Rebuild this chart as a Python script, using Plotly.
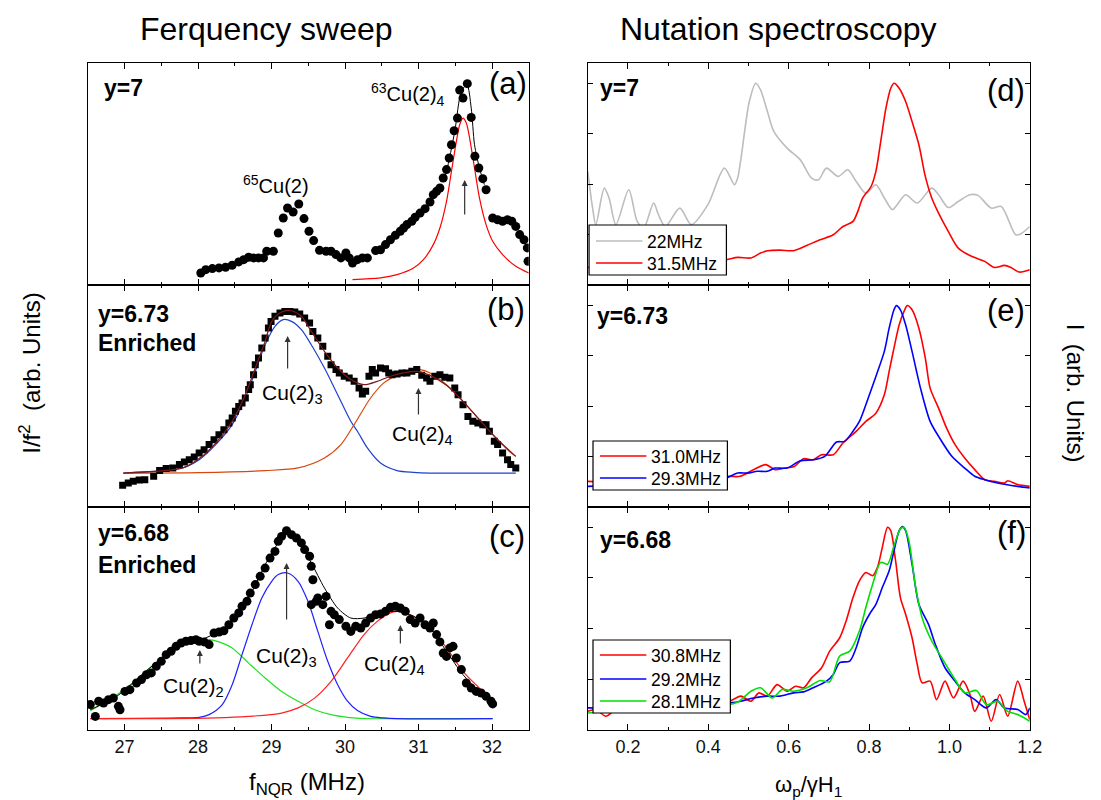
import plotly.graph_objects as go

# ---------------- data ----------------
# (a) y=7 frequency sweep: measured points, Lorentzian component, total fit
a_dots = [(28.038,0.054),(28.106,0.069),(28.195,0.074),(28.285,0.077),(28.375,0.080),(28.465,0.089),
          (28.554,0.104),(28.622,0.114),(28.689,0.125),(28.756,0.122),(28.823,0.122),(28.891,0.122),
          (28.935,0.152),(29.025,0.152),(29.092,0.234),(29.160,0.302),(29.218,0.347),(29.294,0.329),
          (29.371,0.365),(29.442,0.299),(29.510,0.242),(29.573,0.200),(29.653,0.156),(29.743,0.152),
          (29.810,0.152),(29.877,0.137),(29.944,0.122),(30.012,0.144),(30.057,0.122),(30.102,0.099),
          (30.169,0.114),(30.236,0.122),(30.304,0.122),(30.416,0.155),(30.483,0.159),(30.551,0.182),
          (30.618,0.204),(30.685,0.224),(30.752,0.242),(30.797,0.257),(30.842,0.272),(30.909,0.287),
          (30.954,0.305),(31.021,0.324),(31.089,0.344),(31.156,0.374),(31.201,0.407),(31.246,0.422),
          (31.291,0.437),(31.336,0.482),(31.381,0.520),(31.417,0.572),(31.448,0.632),(31.484,0.695),
          (31.529,0.752),(31.560,0.878),(31.605,0.842),(31.664,0.907),(31.717,0.755),(31.767,0.580),
          (31.820,0.527),(31.874,0.479),(31.919,0.429),(32.009,0.302),(32.076,0.294),(32.144,0.287),
          (32.211,0.294),(32.269,0.287),(32.323,0.264),(32.376,0.227),(32.435,0.204),(32.480,0.167),
          (32.490,0.107)]
a_lorentz = [(30.102,0.024),(30.483,0.032),(30.708,0.047),(30.932,0.077),(31.067,0.114),(31.201,0.182),
             (31.291,0.257),(31.381,0.377),(31.448,0.512),(31.515,0.647),(31.560,0.722),(31.605,0.752),
             (31.650,0.730),(31.695,0.662),(31.762,0.527),(31.829,0.392),(31.919,0.272),(32.009,0.197),
             (32.144,0.137),(32.323,0.084),(32.500,0.054)]
a_total = [(31.336,0.467),(31.381,0.512),(31.493,0.692),(31.583,0.872),(31.659,0.902),(31.717,0.797),
           (31.762,0.632),(31.829,0.527),(31.896,0.452)]

# (b) y=6.73 enriched
b_dots = [(26.975,0.098),(27.051,0.108),(27.119,0.116),(27.199,0.122),(27.276,0.123),(27.397,0.138),
          (27.478,0.164),(27.567,0.173),(27.657,0.176),(27.747,0.191),(27.814,0.203),(27.881,0.213),
          (27.949,0.225),(28.016,0.243),(28.083,0.258),(28.151,0.281),(28.218,0.303),(28.285,0.326),
          (28.352,0.348),(28.420,0.378),(28.465,0.401),(28.509,0.431),(28.554,0.453),(28.599,0.468),
          (28.644,0.491),(28.689,0.529),(28.711,0.551),(28.756,0.596),(28.779,0.641),(28.823,0.671),
          (28.868,0.716),(28.913,0.761),(28.958,0.806),(28.994,0.836),(29.047,0.859),(29.115,0.874),
          (29.182,0.881),(29.249,0.881),(29.317,0.878),(29.384,0.869),(29.451,0.851),(29.518,0.829),
          (29.563,0.791),(29.630,0.761),(29.698,0.724),(29.765,0.679),(29.810,0.641),(29.877,0.619),
          (29.922,0.604),(29.989,0.589),(30.057,0.581),(30.124,0.566),(30.191,0.536),(30.236,0.509),
          (30.281,0.521),(30.326,0.589),(30.371,0.619),(30.416,0.604),(30.483,0.626),(30.551,0.623),
          (30.595,0.604),(30.640,0.596),(30.708,0.599),(30.775,0.604),(30.842,0.604),(30.909,0.611),
          (30.976,0.619),(31.044,0.593),(31.111,0.581),(31.156,0.566),(31.223,0.589),(31.291,0.596),
          (31.358,0.584),(31.426,0.581),(31.493,0.536),(31.538,0.506),(31.605,0.461),(31.672,0.408),
          (31.739,0.386),(31.807,0.378),(31.874,0.371),(31.919,0.371),(31.964,0.341),(32.031,0.296),
          (32.076,0.281),(32.144,0.243),(32.211,0.213),(32.255,0.191),(32.323,0.176)]
b_cu3 = [(26.984,0.153),(27.792,0.176),(28.016,0.213),(28.241,0.281),(28.465,0.371),(28.644,0.491),
         (28.779,0.611),(28.913,0.731),(29.047,0.814),(29.160,0.844),(29.272,0.836),(29.406,0.799),
         (29.541,0.731),(29.720,0.626),(29.900,0.506),(30.079,0.386),(30.169,0.341),(30.304,0.266),
         (30.483,0.198),(30.708,0.164),(30.932,0.156),(31.156,0.153),(32.323,0.153)]
b_cu4 = [(26.984,0.153),(28.016,0.155),(28.913,0.164),(29.361,0.176),(29.720,0.221),(29.944,0.281),
         (30.124,0.371),(30.348,0.491),(30.528,0.559),(30.708,0.593),(30.932,0.616),(31.021,0.619),
         (31.156,0.604),(31.381,0.551),(31.605,0.476),(31.829,0.393),(32.054,0.311),(32.233,0.251),
         (32.323,0.228)]
b_total = [(26.984,0.153),(27.792,0.176),(28.016,0.218),(28.241,0.288),(28.465,0.386),(28.644,0.506),
           (28.779,0.626),(28.913,0.746),(29.003,0.836),(29.137,0.878),(29.272,0.884),(29.406,0.859),
           (29.541,0.791),(29.720,0.701),(29.900,0.626),(30.079,0.574),(30.259,0.551),(30.438,0.566),
           (30.618,0.589),(30.797,0.604),(30.976,0.611),(31.156,0.593),(31.381,0.548),(31.605,0.476),
           (31.829,0.393),(32.054,0.311),(32.323,0.228)]

# (c) y=6.68 enriched
c_dots = [(26.535,0.114),(26.603,0.061),(26.648,0.129),(26.715,0.121),(26.782,0.136),(26.849,0.143),
          (26.917,0.106),(26.939,0.091),(27.006,0.173),(27.073,0.181),(27.163,0.211),(27.231,0.226),
          (27.298,0.248),(27.365,0.256),(27.432,0.286),(27.500,0.308),(27.567,0.338),(27.634,0.353),
          (27.702,0.375),(27.769,0.390),(27.836,0.398),(27.904,0.401),(27.971,0.405),(28.016,0.398),
          (28.083,0.395),(28.151,0.383),(28.218,0.435),(28.285,0.439),(28.352,0.445),(28.420,0.472),
          (28.487,0.502),(28.554,0.525),(28.599,0.555),(28.666,0.577),(28.711,0.614),(28.779,0.652),
          (28.846,0.689),(28.913,0.726),(28.980,0.771),(29.047,0.801),(29.092,0.846),(29.137,0.868),
          (29.204,0.894),(29.272,0.876),(29.339,0.861),(29.406,0.839),(29.451,0.809),(29.518,0.779),
          (29.541,0.734),(29.563,0.674),(29.630,0.592),(29.698,0.562),(29.743,0.599),(29.541,0.562),
          (29.608,0.577),(29.810,0.532),(29.855,0.517),(29.788,0.472),(29.922,0.495),(30.012,0.465),
          (30.079,0.442),(30.146,0.465),(30.214,0.457),(30.281,0.480),(30.348,0.502),(30.416,0.517),
          (30.483,0.520),(30.551,0.532),(30.618,0.550),(30.685,0.555),(30.752,0.547),(30.820,0.532),
          (30.887,0.495),(30.954,0.480),(31.021,0.502),(31.089,0.472),(31.156,0.457),(31.201,0.480),
          (31.246,0.428),(31.291,0.395),(31.336,0.345),(31.381,0.330),(31.426,0.368),(31.470,0.375),
          (31.515,0.323),(31.583,0.271),(31.650,0.211),(31.717,0.188),(31.785,0.173),(31.852,0.166),
          (31.919,0.151),(31.986,0.129),(32.009,0.117)]
c_cu2 = [(26.535,0.087),(26.760,0.129),(27.028,0.188),(27.343,0.278),(27.567,0.338),(27.792,0.386),
         (28.016,0.405),(28.151,0.405),(28.285,0.395),(28.465,0.368),(28.689,0.300),(28.913,0.233),
         (29.137,0.173),(29.361,0.129),(29.586,0.091),(29.810,0.069),(30.034,0.057),(30.259,0.051),
         (30.708,0.051),(32.009,0.051)]
c_cu3 = [(26.535,0.051),(27.792,0.054),(28.016,0.057),(28.151,0.069),(28.330,0.114),(28.465,0.203),
         (28.599,0.338),(28.734,0.472),(28.868,0.592),(29.003,0.667),(29.092,0.697),(29.218,0.704),
         (29.361,0.667),(29.496,0.577),(29.630,0.442),(29.765,0.308),(29.900,0.203),(30.034,0.129),
         (30.169,0.087),(30.348,0.061),(30.528,0.054),(30.708,0.051),(32.009,0.051)]
c_cu4 = [(26.535,0.051),(27.567,0.051),(28.241,0.054),(28.689,0.061),(29.137,0.076),(29.361,0.099),
         (29.586,0.143),(29.810,0.218),(30.034,0.323),(30.259,0.428),(30.438,0.487),(30.618,0.525),
         (30.708,0.532),(30.797,0.529),(30.932,0.510),(31.156,0.457),(31.381,0.368),(31.605,0.263),
         (31.829,0.188),(32.009,0.136)]
c_total = [(26.535,0.091),(26.894,0.151),(27.343,0.278),(27.792,0.383),(28.106,0.413),(28.241,0.435),
           (28.465,0.487),(28.689,0.592),(28.913,0.741),(29.092,0.839),(29.204,0.876),(29.361,0.846),
           (29.541,0.749),(29.720,0.637),(29.900,0.547),(30.079,0.502),(30.259,0.502),(30.483,0.525),
           (30.708,0.532),(30.932,0.510),(31.156,0.457),(31.381,0.353),(31.605,0.248),(31.829,0.173),
           (32.009,0.129)]

# (d) nutation spectra, y=7
d_22 = [(0.100,0.563),(0.112,0.381),(0.120,0.299),(0.141,0.480),(0.153,0.431),(0.170,0.299),(0.202,0.472),
        (0.223,0.315),(0.239,0.282),(0.264,0.406),(0.276,0.348),(0.293,0.290),(0.329,0.381),(0.358,0.299),
        (0.399,0.398),(0.440,0.579),(0.465,0.497),(0.473,0.530),(0.502,0.909),(0.518,1.000),(0.530,0.967),
        (0.547,0.860),(0.563,0.761),(0.596,0.678),(0.629,0.620),(0.657,0.530),(0.674,0.521),(0.694,0.579),
        (0.723,0.538),(0.747,0.571),(0.768,0.513),(0.792,0.455),(0.817,0.497),(0.838,0.431),(0.858,0.373),
        (0.870,0.398),(0.891,0.447),(0.920,0.406),(0.956,0.480),(0.973,0.447),(0.997,0.384),(1.022,0.414),
        (1.051,0.447),(1.071,0.444),(1.104,0.381),(1.129,0.389),(1.165,0.249),(1.178,0.254),(1.200,0.290)]
d_315 = [(0.100,0.087),(0.150,0.095),(0.250,0.100),(0.350,0.110),(0.444,0.125),(0.473,0.137),(0.506,0.134),
         (0.530,0.158),(0.547,0.170),(0.579,0.173),(0.612,0.170),(0.645,0.196),(0.678,0.224),(0.711,0.249),
         (0.735,0.290),(0.760,0.315),(0.772,0.365),(0.784,0.431),(0.805,0.488),(0.817,0.563),(0.829,0.711),
         (0.842,0.876),(0.854,0.975),(0.862,1.000),(0.875,0.975),(0.891,0.909),(0.907,0.810),(0.924,0.695),
         (0.940,0.538),(0.956,0.431),(0.973,0.356),(0.997,0.266),(1.022,0.183),(1.055,0.142),(1.088,0.117),
         (1.112,0.087),(1.137,0.097),(1.153,0.087),(1.174,0.064),(1.200,0.076)]

# (e) y=6.73
e_310 = [(0.100,0.127),(0.200,0.120),(0.300,0.130),(0.400,0.140),(0.448,0.152),(0.479,0.152),(0.512,0.185),
         (0.543,0.210),(0.566,0.185),(0.590,0.193),(0.614,0.201),(0.637,0.239),(0.661,0.234),(0.682,0.259),
         (0.711,0.259),(0.735,0.317),(0.768,0.375),(0.792,0.424),(0.817,0.465),(0.838,0.556),(0.850,0.672),
         (0.862,0.787),(0.875,0.903),(0.887,0.969),(0.895,0.998),(0.907,0.977),(0.924,0.886),(0.940,0.738),
         (0.952,0.589),(0.973,0.490),(0.993,0.391),(1.014,0.309),(1.038,0.243),(1.063,0.185),(1.088,0.135),
         (1.112,0.127),(1.137,0.119),(1.145,0.130),(1.170,0.111),(1.200,0.102)]
e_293 = [(0.100,0.102),(0.200,0.110),(0.300,0.120),(0.400,0.135),(0.444,0.144),(0.473,0.168),(0.498,0.168),
         (0.522,0.177),(0.547,0.177),(0.566,0.193),(0.596,0.193),(0.629,0.229),(0.661,0.234),(0.690,0.251),
         (0.719,0.322),(0.739,0.325),(0.760,0.375),(0.776,0.424),(0.792,0.507),(0.817,0.647),(0.838,0.771),
         (0.850,0.886),(0.862,0.977),(0.868,0.998),(0.878,0.977),(0.891,0.903),(0.907,0.771),(0.928,0.589),
         (0.952,0.424),(0.973,0.350),(1.006,0.251),(1.038,0.193),(1.063,0.152),(1.088,0.135),(1.120,0.119),
         (1.170,0.102),(1.200,0.094)]

# (f) y=6.68
f_308 = [(0.100,0.092),(0.120,0.101),(0.145,0.068),(0.170,0.101),(0.250,0.120),(0.350,0.130),(0.452,0.142),
         (0.481,0.167),(0.506,0.142),(0.526,0.183),(0.547,0.167),(0.571,0.224),(0.596,0.191),(0.617,0.216),
         (0.637,0.208),(0.657,0.257),(0.682,0.307),(0.702,0.389),(0.727,0.455),(0.743,0.538),(0.760,0.653),
         (0.776,0.736),(0.792,0.777),(0.809,0.761),(0.821,0.802),(0.833,0.901),(0.846,1.000),(0.854,0.983),
         (0.866,0.835),(0.878,0.653),(0.891,0.571),(0.907,0.455),(0.920,0.323),(0.932,0.233),(0.952,0.241),
         (0.968,0.150),(0.989,0.241),(1.010,0.158),(1.034,0.241),(1.051,0.175),(1.063,0.092),(1.084,0.167),
         (1.104,0.043),(1.125,0.175),(1.145,0.068),(1.170,0.241),(1.186,0.142),(1.200,0.051)]
f_292 = [(0.100,0.109),(0.200,0.110),(0.300,0.120),(0.400,0.130),(0.452,0.134),(0.481,0.142),(0.512,0.158),
         (0.547,0.167),(0.579,0.167),(0.612,0.183),(0.637,0.188),(0.661,0.208),(0.694,0.241),(0.711,0.274),
         (0.727,0.332),(0.752,0.340),(0.768,0.406),(0.784,0.505),(0.801,0.571),(0.817,0.620),(0.833,0.703),
         (0.850,0.785),(0.862,0.884),(0.875,0.983),(0.883,1.003),(0.891,0.983),(0.907,0.818),(0.924,0.620),
         (0.948,0.521),(0.965,0.422),(0.989,0.307),(1.014,0.241),(1.038,0.183),(1.063,0.150),(1.092,0.109),
         (1.116,0.150),(1.137,0.109),(1.170,0.101),(1.190,0.076),(1.200,0.109)]
f_281 = [(0.100,0.084),(0.200,0.100),(0.300,0.110),(0.400,0.120),(0.452,0.125),(0.477,0.142),(0.506,0.191),
         (0.530,0.208),(0.559,0.158),(0.584,0.200),(0.612,0.191),(0.645,0.208),(0.678,0.244),(0.702,0.238),
         (0.727,0.365),(0.752,0.389),(0.776,0.488),(0.792,0.604),(0.809,0.719),(0.829,0.827),(0.846,0.818),
         (0.862,0.909),(0.878,0.992),(0.887,1.000),(0.899,0.934),(0.916,0.703),(0.932,0.554),(0.956,0.439),
         (0.981,0.356),(1.014,0.249),(1.038,0.183),(1.067,0.195),(1.092,0.125),(1.120,0.142),(1.145,0.092),
         (1.170,0.076),(1.200,0.043)]

# legend labels per nutation panel
d_labels = ["22MHz", "31.5MHz"]
e_labels = ["31.0MHz", "29.3MHz"]
f_labels = ["30.8MHz", "29.2MHz", "28.1MHz"]

# arrows: (x, head y, tail y) per panel
a_arrows = [(31.628, 0.473, 0.311)]
b_arrows = [(29.219, 0.770, 0.617), (30.999, 0.536, 0.410)]
c_arrows = [(28.025, 0.359, 0.291), (29.205, 0.749, 0.489), (30.753, 0.471, 0.381)]

left_ticks = [27, 28, 29, 30, 31, 32]
right_ticks = [0.2, 0.4, 0.6, 0.8, 1.0, 1.2]

# ---------------- figure ----------------
W, H = 1101, 800
FONT = "Liberation Sans, Arial, sans-serif"
GRAY, RED, BLUE, GREEN = "#bdbdbd", "#ff0000", "#0000ff", "#00e000"


def X(p):
    return [q[0] for q in p]


def Y(p):
    return [q[1] for q in p]


def px(v):
    return v / W


def py(v):
    return 1 - v / H


LX = [80.7 / W, 527 / W]
RX = [586.7 / W, 1034 / W]
ROWS = [[1 - 277 / H, 1 - 55 / H], [1 - 499 / H, 1 - 277 / H], [1 - 722 / H, 1 - 499 / H]]

fig = go.Figure()


def line(p, color, ax, width=1.2, name=None):
    fig.add_trace(go.Scatter(x=X(p), y=Y(p), mode="lines",
                             line=dict(color=color, width=width, shape="spline", smoothing=0.8),
                             xaxis="x" + ax, yaxis="y" + ax, name=name, showlegend=False, hoverinfo="skip"))


def dots(p, ax, symbol, size):
    fig.add_trace(go.Scatter(x=X(p), y=Y(p), mode="markers", marker=dict(color="black", symbol=symbol, size=size),
                             xaxis="x" + ax, yaxis="y" + ax, showlegend=False))


# panel (a)
line(a_lorentz, RED, "")
dots(a_dots, "", "circle", 9)
line(a_total, "black", "", 1.0)
# panel (b)
line(b_cu3, "#1f3fd0", "2")
line(b_cu4, "#d8480c", "2")
dots(b_dots, "2", "square", 7)
line(b_total, "#7a1a1a", "2", 1.2)
# panel (c)
line(c_cu2, "#22e022", "3")
line(c_cu3, "#2020ff", "3")
line(c_cu4, "#ff2020", "3")
dots(c_dots, "3", "circle", 9)
line(c_total, "black", "3", 1.0)
# panel (d)
line(d_22, GRAY, "4", 1.6, d_labels[0])
line(d_315, RED, "4", 1.6, d_labels[1])
# panel (e)
line(e_310, RED, "5", 1.6, e_labels[0])
line(e_293, BLUE, "5", 1.6, e_labels[1])
# panel (f)
line(f_308, RED, "6", 1.6, f_labels[0])
line(f_292, BLUE, "6", 1.6, f_labels[1])
line(f_281, GREEN, "6", 1.6, f_labels[2])

axis_common = dict(showline=True, linecolor="black", linewidth=1.2, showgrid=False, zeroline=False,
                   ticks="inside", tickcolor="black", mirror="ticks",
                   tickfont=dict(family=FONT, size=18, color="#111"))

layout = dict(width=W, height=H, margin=dict(l=0, r=0, t=0, b=0), plot_bgcolor="white",
              paper_bgcolor="white", font=dict(family=FONT, color="black"), showlegend=False)

names = ["", "2", "3", "4", "5", "6"]
for i, n in enumerate(names):
    left = i < 3
    row = i % 3
    xa = dict(axis_common, domain=LX if left else RX, anchor="y" + n, showticklabels=(row == 2))
    if left:
        xa.update(range=[26.5, 32.5], tickvals=left_ticks, ticklen=6,
                  minor=dict(dtick=0.5, tick0=26.5, ticks="inside", ticklen=3, tickcolor="black"))
    else:
        xa.update(range=[0.1, 1.2], tickvals=right_ticks, tickformat=".1f", ticklen=6,
                  minor=dict(dtick=0.1, tick0=0.1, ticks="inside", ticklen=3, tickcolor="black"))
    ya = dict(showline=True, linecolor="black", linewidth=1.2, showgrid=False, zeroline=False,
              domain=ROWS[row], anchor="x" + n, showticklabels=False)
    if left:
        ya.update(range=[0, 1], ticks="", mirror=True)
    else:
        ya.update(range=[0, 1.1], tickvals=[0.25, 0.5, 0.75, 1.0], ticks="inside", ticklen=5,
                  tickcolor="black", mirror="ticks")
    layout["xaxis" + n] = xa
    layout["yaxis" + n] = ya

fig.update_layout(**layout)

ann = []
shapes = []


def text(t, x, y, size=18, xanchor="center", bold=False, angle=0):
    ann.append(dict(text=("<b>%s</b>" % t) if bold else t, x=px(x), y=py(y), xref="paper", yref="paper",
                    showarrow=False, xanchor=xanchor, yanchor="middle", textangle=angle,
                    font=dict(family=FONT, size=size, color="black")))


# hand-built legend boxes (one per nutation panel)
def legend_box(x0, y0, x1, y1, rows, labels, colors):
    shapes.append(dict(type="rect", xref="paper", yref="paper", x0=px(x0), x1=px(x1), y0=py(y1), y1=py(y0),
                       line=dict(color="black", width=1.2), fillcolor="white", layer="above"))
    for r, lab, col in zip(rows, labels, colors):
        shapes.append(dict(type="line", xref="paper", yref="paper", x0=px(x0 + 7), x1=px(x0 + 54),
                           y0=py(r), y1=py(r), line=dict(color=col, width=1.6), layer="above"))
        text(lab, x0 + 57, r + 1, 17.5, "left")


legend_box(588, 217, 727, 267, [233, 255], d_labels, [GRAY, RED])
legend_box(592, 433, 728, 482, [448, 470], e_labels, [RED, BLUE])
legend_box(592, 632, 731, 705, [647, 671, 693], f_labels, [RED, BLUE, GREEN])

# titles
text("Ferquency sweep", 262, 21, 32)
text("Nutation spectroscopy", 780, 21, 32)
# axis titles
text("f<sub>NQR</sub> (MHz)", 303, 775, 24)
text("ω<sub>p</sub>/γH<sub>1</sub>", 810, 778, 22)
text("I/f<sup>2</sup>  (arb. Units)", 22, 365, 24, angle=-90)
text("I  (arb. Units)", 1080, 385, 24, angle=90)
# panel labels
text("y=7", 95, 80, 23, "left", True)
text("(a)", 506, 76, 31)
text("<sup>63</sup>Cu(2)<sub>4</sub>", 405, 86, 20)
text("<sup>65</sup>Cu(2)", 271, 177, 20)
text("y=6.73", 89, 306, 23, "left", True)
text("Enriched", 89, 335, 23, "left", True)
text("(b)", 504, 301, 31)
text("Cu(2)<sub>3</sub>", 288, 386, 21)
text("Cu(2)<sub>4</sub>", 419, 427, 21)
text("y=6.68", 89, 525, 23, "left", True)
text("Enriched", 89, 557, 23, "left", True)
text("(c)", 505, 528, 31)
text("Cu(2)<sub>2</sub>", 188, 679, 21)
text("Cu(2)<sub>3</sub>", 282, 649, 21)
text("Cu(2)<sub>4</sub>", 391, 657, 21)
text("y=7", 597, 80, 23, "left", True)
text("(d)", 1010, 82, 31)
text("y=6.73", 594, 308, 23, "left", True)
text("(e)", 1010, 303, 31)
text("y=6.68", 597, 532, 23, "left", True)
text("(f)", 1015, 524, 31)

for arrows, ax in ((a_arrows, ""), (b_arrows, "2"), (c_arrows, "3")):
    for (x0, yh, yt) in arrows:
        ann.append(dict(x=x0, y=yh, ax=x0, ay=yt, xref="x" + ax, yref="y" + ax, axref="x" + ax,
                        ayref="y" + ax, text="", showarrow=True, arrowhead=2, arrowsize=1,
                        arrowwidth=1.2, arrowcolor="#333"))

fig.update_layout(annotations=ann, shapes=shapes)
fig.write_html("out.html")
